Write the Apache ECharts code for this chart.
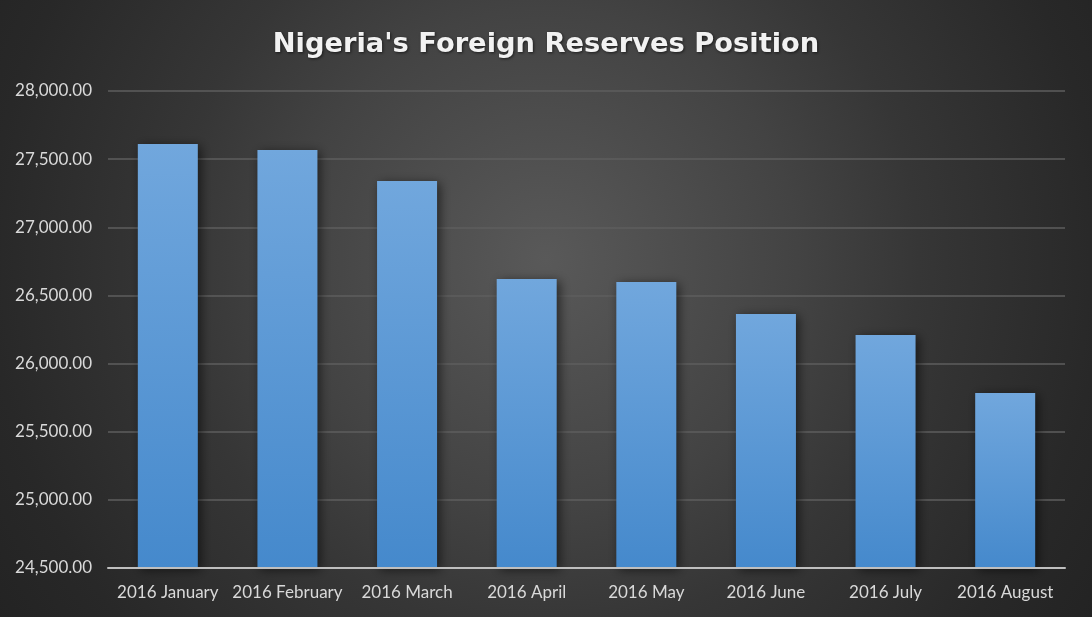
<!DOCTYPE html>
<html>
<head>
<meta charset="utf-8">
<script src="https://cdn.jsdelivr.net/npm/echarts@6/dist/echarts.min.js"></script>
<style>
html,body{margin:0;padding:0;width:1092px;height:617px;overflow:hidden;background:#333;}
#chart{width:1092px;height:617px;}
</style>
</head>
<body>
<div id="chart"></div>
<script>
const titleText = "Nigeria's Foreign Reserves Position";
const categories = ['2016 January','2016 February','2016 March','2016 April','2016 May','2016 June','2016 July','2016 August'];
const reserves = [27611, 27567, 27340, 26620, 26598, 26364, 26210, 25784];
const yMin = 24500, yMax = 28000, yStep = 500;

const chart = echarts.init(document.getElementById('chart'));
chart.setOption({
  backgroundColor: {
    type: 'radial', x: 0.5, y: 0.42, r: 1.1,
    colorStops: [
      {offset: 0, color: '#595959'},
      {offset: 0.37, color: '#434343'},
      {offset: 0.55, color: '#363636'},
      {offset: 0.82, color: '#282828'},
      {offset: 1, color: '#222222'}
    ]
  },
  animation: false,
  title: {
    text: titleText,
    left: 'center',
    top: 26,
    textStyle: {
      fontFamily: 'DejaVu Sans',
      fontWeight: 'bold',
      fontSize: 27.3,
      color: '#f2f2f2',
      textShadowColor: 'rgba(0,0,0,0.6)',
      textShadowBlur: 3,
      textShadowOffsetX: 1,
      textShadowOffsetY: 1
    }
  },
  grid: {left: 108, right: 27, top: 91, bottom: 49},
  xAxis: {
    type: 'category',
    data: categories,
    z: 5,
    axisLine: {lineStyle: {color: '#bfbfbf', width: 2}},
    axisTick: {show: false},
    axisLabel: {interval: 0, color: '#d9d9d9', fontFamily: 'Lato', fontSize: 17, margin: 16}
  },
  yAxis: {
    type: 'value',
    min: yMin, max: yMax, interval: yStep,
    axisLine: {show: false},
    axisTick: {show: false},
    splitLine: {lineStyle: {color: '#5e5e5e', width: 1.5}},
    axisLabel: {
      color: '#d9d9d9', fontFamily: 'Lato', fontSize: 17, margin: 16,
      formatter: v => v.toLocaleString('en-US', {minimumFractionDigits: 2, maximumFractionDigits: 2})
    }
  },
  series: [{
    type: 'bar',
    data: reserves,
    barWidth: 60,
    itemStyle: {
      color: {
        type: 'linear', x: 0, y: 0, x2: 0, y2: 1,
        colorStops: [
          {offset: 0, color: '#71a7dd'},
          {offset: 1, color: '#4589cc'}
        ]
      },
      shadowColor: 'rgba(0,0,0,0.55)',
      shadowBlur: 10,
      shadowOffsetX: 3,
      shadowOffsetY: 2
    }
  }]
});
</script>
</body>
</html>
